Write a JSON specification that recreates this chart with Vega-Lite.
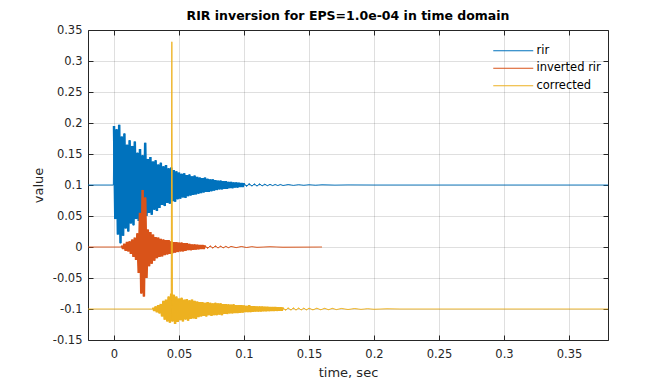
{
  "$schema": "https://vega.github.io/schema/vega-lite/v6.json",
  "width": 520,
  "height": 310,
  "autosize": {"type": "none"},
  "padding": {"left": 88, "top": 30, "right": 64, "bottom": 44},
  "background": "white",
  "title": {"text": "RIR inversion for EPS=1.0e-04 in time domain", "fontSize": 12.5, "fontWeight": "bold", "font": "DejaVu Sans", "color": "#000000", "anchor": "middle", "baseline": "alphabetic", "offset": -8},
  "config": {
    "view": {"stroke": "#262626", "strokeWidth": 1},
    "axis": {"labelFont": "DejaVu Sans", "titleFont": "DejaVu Sans", "labelFontSize": 11.5, "titleFontSize": 13, "titleFontWeight": "normal", "labelColor": "#262626", "titleColor": "#262626", "tickColor": "#262626", "gridColor": "#262626", "gridOpacity": 0.15, "domain": false, "tickSize": -5},
    "legend": {"labelFont": "DejaVu Sans", "labelFontSize": 11.5, "labelColor": "#000000"}
  },
  "datasets": {
    "rir": [
      {"t": -0.02, "v": 0.1}, {"t": -0.0005, "v": 0.1},
      {"t": 0.000, "v": 0.195}, {"t": 0.001, "v": 0.045}, {"t": 0.002, "v": 0.19}, {"t": 0.003, "v": 0.02},
      {"t": 0.004, "v": 0.197}, {"t": 0.005, "v": 0.006}, {"t": 0.006, "v": 0.178}, {"t": 0.007, "v": 0.018},
      {"t": 0.008, "v": 0.183}, {"t": 0.009, "v": 0.03}, {"t": 0.010, "v": 0.165}, {"t": 0.011, "v": 0.025},
      {"t": 0.012, "v": 0.172}, {"t": 0.013, "v": 0.038}, {"t": 0.014, "v": 0.163}, {"t": 0.015, "v": 0.035},
      {"t": 0.016, "v": 0.17}, {"t": 0.017, "v": 0.045}, {"t": 0.018, "v": 0.152}, {"t": 0.019, "v": 0.042},
      {"t": 0.020, "v": 0.158}, {"t": 0.021, "v": 0.048}, {"t": 0.022, "v": 0.148}, {"t": 0.023, "v": 0.045},
      {"t": 0.024, "v": 0.168}, {"t": 0.025, "v": 0.05}, {"t": 0.026, "v": 0.142}, {"t": 0.027, "v": 0.055},
      {"t": 0.028, "v": 0.145}, {"t": 0.029, "v": 0.052}, {"t": 0.030, "v": 0.138}, {"t": 0.031, "v": 0.06},
      {"t": 0.032, "v": 0.14}, {"t": 0.033, "v": 0.058}, {"t": 0.034, "v": 0.133}, {"t": 0.035, "v": 0.063},
      {"t": 0.036, "v": 0.136}, {"t": 0.037, "v": 0.068}, {"t": 0.038, "v": 0.13}, {"t": 0.039, "v": 0.066},
      {"t": 0.040, "v": 0.132}, {"t": 0.041, "v": 0.071}, {"t": 0.042, "v": 0.127}, {"t": 0.043, "v": 0.07},
      {"t": 0.044, "v": 0.128}, {"t": 0.045, "v": 0.074}, {"t": 0.046, "v": 0.124}, {"t": 0.047, "v": 0.073},
      {"t": 0.048, "v": 0.122}, {"t": 0.049, "v": 0.077}, {"t": 0.050, "v": 0.12}, {"t": 0.051, "v": 0.078},
      {"t": 0.052, "v": 0.118}, {"t": 0.053, "v": 0.08}, {"t": 0.054, "v": 0.119}, {"t": 0.055, "v": 0.079},
      {"t": 0.056, "v": 0.116}, {"t": 0.057, "v": 0.082}, {"t": 0.058, "v": 0.117}, {"t": 0.059, "v": 0.083},
      {"t": 0.060, "v": 0.114}, {"t": 0.061, "v": 0.084}, {"t": 0.062, "v": 0.115}, {"t": 0.063, "v": 0.085},
      {"t": 0.064, "v": 0.113}, {"t": 0.065, "v": 0.086}, {"t": 0.066, "v": 0.112}, {"t": 0.067, "v": 0.087},
      {"t": 0.068, "v": 0.111}, {"t": 0.069, "v": 0.088}, {"t": 0.070, "v": 0.112}, {"t": 0.071, "v": 0.089},
      {"t": 0.072, "v": 0.11}, {"t": 0.073, "v": 0.089}, {"t": 0.074, "v": 0.109}, {"t": 0.075, "v": 0.09},
      {"t": 0.076, "v": 0.109}, {"t": 0.077, "v": 0.091}, {"t": 0.078, "v": 0.108}, {"t": 0.079, "v": 0.092},
      {"t": 0.080, "v": 0.107}, {"t": 0.081, "v": 0.093}, {"t": 0.082, "v": 0.107}, {"t": 0.083, "v": 0.093},
      {"t": 0.084, "v": 0.106}, {"t": 0.085, "v": 0.094}, {"t": 0.086, "v": 0.106}, {"t": 0.087, "v": 0.094},
      {"t": 0.088, "v": 0.105}, {"t": 0.089, "v": 0.095}, {"t": 0.090, "v": 0.105}, {"t": 0.091, "v": 0.095},
      {"t": 0.092, "v": 0.104}, {"t": 0.093, "v": 0.096}, {"t": 0.094, "v": 0.104}, {"t": 0.095, "v": 0.096},
      {"t": 0.096, "v": 0.1035}, {"t": 0.097, "v": 0.097}, {"t": 0.098, "v": 0.103}, {"t": 0.099, "v": 0.097},
      {"t": 0.100, "v": 0.103}, {"t": 0.102, "v": 0.0975}, {"t": 0.104, "v": 0.1025}, {"t": 0.106, "v": 0.098},
      {"t": 0.108, "v": 0.102}, {"t": 0.110, "v": 0.098}, {"t": 0.112, "v": 0.102}, {"t": 0.114, "v": 0.0985},
      {"t": 0.116, "v": 0.1015}, {"t": 0.118, "v": 0.0988}, {"t": 0.120, "v": 0.1012}, {"t": 0.122, "v": 0.099},
      {"t": 0.124, "v": 0.101}, {"t": 0.126, "v": 0.0991}, {"t": 0.128, "v": 0.1009}, {"t": 0.130, "v": 0.0992},
      {"t": 0.134, "v": 0.1007}, {"t": 0.138, "v": 0.0994}, {"t": 0.142, "v": 0.1005}, {"t": 0.146, "v": 0.0996},
      {"t": 0.150, "v": 0.1004}, {"t": 0.155, "v": 0.0997}, {"t": 0.160, "v": 0.1003}, {"t": 0.170, "v": 0.0998},
      {"t": 0.180, "v": 0.1002}, {"t": 0.200, "v": 0.1}, {"t": 0.380, "v": 0.1}
    ],
    "inv": [
      {"t": -0.02, "v": 0}, {"t": 0.005, "v": 0},
      {"t": 0.006, "v": 0.002}, {"t": 0.007, "v": -0.003}, {"t": 0.008, "v": 0.005}, {"t": 0.009, "v": -0.006},
      {"t": 0.010, "v": 0.008}, {"t": 0.011, "v": -0.007}, {"t": 0.012, "v": 0.009}, {"t": 0.013, "v": -0.011},
      {"t": 0.014, "v": 0.012}, {"t": 0.015, "v": -0.016}, {"t": 0.016, "v": 0.015}, {"t": 0.017, "v": -0.021},
      {"t": 0.018, "v": 0.022}, {"t": 0.019, "v": -0.042}, {"t": 0.020, "v": 0.055}, {"t": 0.021, "v": -0.075},
      {"t": 0.022, "v": 0.092}, {"t": 0.023, "v": -0.08}, {"t": 0.024, "v": 0.08}, {"t": 0.025, "v": -0.05},
      {"t": 0.026, "v": 0.028}, {"t": 0.027, "v": -0.031}, {"t": 0.028, "v": 0.024}, {"t": 0.029, "v": -0.027},
      {"t": 0.030, "v": 0.02}, {"t": 0.031, "v": -0.022}, {"t": 0.032, "v": 0.016}, {"t": 0.033, "v": -0.018},
      {"t": 0.034, "v": 0.015}, {"t": 0.035, "v": -0.016}, {"t": 0.036, "v": 0.013}, {"t": 0.037, "v": -0.015},
      {"t": 0.038, "v": 0.012}, {"t": 0.039, "v": -0.013}, {"t": 0.040, "v": 0.011}, {"t": 0.041, "v": -0.012},
      {"t": 0.042, "v": 0.011}, {"t": 0.043, "v": -0.011}, {"t": 0.044, "v": 0.009}, {"t": 0.045, "v": -0.01},
      {"t": 0.046, "v": 0.008}, {"t": 0.047, "v": -0.009}, {"t": 0.048, "v": 0.008}, {"t": 0.049, "v": -0.008},
      {"t": 0.050, "v": 0.007}, {"t": 0.051, "v": -0.007}, {"t": 0.052, "v": 0.007}, {"t": 0.053, "v": -0.007},
      {"t": 0.054, "v": 0.006}, {"t": 0.055, "v": -0.006}, {"t": 0.056, "v": 0.006}, {"t": 0.057, "v": -0.005},
      {"t": 0.058, "v": 0.005}, {"t": 0.059, "v": -0.005}, {"t": 0.060, "v": 0.004}, {"t": 0.061, "v": -0.0045},
      {"t": 0.062, "v": 0.004}, {"t": 0.063, "v": -0.004}, {"t": 0.064, "v": 0.0035}, {"t": 0.065, "v": -0.0035},
      {"t": 0.066, "v": 0.003}, {"t": 0.067, "v": -0.003}, {"t": 0.068, "v": 0.003}, {"t": 0.069, "v": -0.003},
      {"t": 0.070, "v": 0.0025}, {"t": 0.072, "v": -0.0025}, {"t": 0.074, "v": 0.002}, {"t": 0.076, "v": -0.002},
      {"t": 0.078, "v": 0.002}, {"t": 0.080, "v": -0.0018}, {"t": 0.082, "v": 0.0015}, {"t": 0.084, "v": -0.0015},
      {"t": 0.086, "v": 0.0012}, {"t": 0.088, "v": -0.0012}, {"t": 0.090, "v": 0.001}, {"t": 0.094, "v": -0.001},
      {"t": 0.098, "v": 0.0008}, {"t": 0.102, "v": -0.0008}, {"t": 0.106, "v": 0.0006}, {"t": 0.110, "v": -0.0005},
      {"t": 0.120, "v": 0.0004}, {"t": 0.130, "v": -0.0003}, {"t": 0.160, "v": 0}
    ],
    "cor": [
      {"t": -0.02, "v": -0.1}, {"t": 0.029, "v": -0.1},
      {"t": 0.030, "v": -0.098}, {"t": 0.031, "v": -0.103}, {"t": 0.032, "v": -0.096}, {"t": 0.033, "v": -0.105},
      {"t": 0.034, "v": -0.094}, {"t": 0.035, "v": -0.107}, {"t": 0.036, "v": -0.092}, {"t": 0.037, "v": -0.112},
      {"t": 0.038, "v": -0.087}, {"t": 0.039, "v": -0.117}, {"t": 0.040, "v": -0.085}, {"t": 0.041, "v": -0.12},
      {"t": 0.042, "v": -0.08}, {"t": 0.043, "v": -0.122}, {"t": 0.044, "v": -0.075}, {"t": 0.0445, "v": 0.331},
      {"t": 0.045, "v": -0.12}, {"t": 0.046, "v": -0.077}, {"t": 0.047, "v": -0.124}, {"t": 0.048, "v": -0.08},
      {"t": 0.049, "v": -0.121}, {"t": 0.050, "v": -0.083}, {"t": 0.051, "v": -0.118}, {"t": 0.052, "v": -0.082},
      {"t": 0.053, "v": -0.12}, {"t": 0.054, "v": -0.085}, {"t": 0.055, "v": -0.117}, {"t": 0.056, "v": -0.084},
      {"t": 0.057, "v": -0.119}, {"t": 0.058, "v": -0.086}, {"t": 0.059, "v": -0.116}, {"t": 0.060, "v": -0.085},
      {"t": 0.061, "v": -0.115}, {"t": 0.062, "v": -0.087}, {"t": 0.063, "v": -0.116}, {"t": 0.064, "v": -0.088},
      {"t": 0.065, "v": -0.113}, {"t": 0.066, "v": -0.089}, {"t": 0.067, "v": -0.112}, {"t": 0.068, "v": -0.089},
      {"t": 0.069, "v": -0.111}, {"t": 0.070, "v": -0.09}, {"t": 0.071, "v": -0.112}, {"t": 0.072, "v": -0.089},
      {"t": 0.073, "v": -0.11}, {"t": 0.074, "v": -0.09}, {"t": 0.075, "v": -0.111}, {"t": 0.076, "v": -0.091},
      {"t": 0.077, "v": -0.11}, {"t": 0.078, "v": -0.09}, {"t": 0.079, "v": -0.11}, {"t": 0.080, "v": -0.091},
      {"t": 0.081, "v": -0.109}, {"t": 0.082, "v": -0.091}, {"t": 0.083, "v": -0.11}, {"t": 0.084, "v": -0.092},
      {"t": 0.085, "v": -0.108}, {"t": 0.086, "v": -0.092}, {"t": 0.087, "v": -0.108}, {"t": 0.088, "v": -0.0925},
      {"t": 0.089, "v": -0.107}, {"t": 0.090, "v": -0.093}, {"t": 0.091, "v": -0.107}, {"t": 0.092, "v": -0.0925},
      {"t": 0.093, "v": -0.1065}, {"t": 0.094, "v": -0.094}, {"t": 0.095, "v": -0.1065}, {"t": 0.096, "v": -0.094},
      {"t": 0.097, "v": -0.106}, {"t": 0.098, "v": -0.094}, {"t": 0.099, "v": -0.1055}, {"t": 0.100, "v": -0.0945},
      {"t": 0.101, "v": -0.105}, {"t": 0.102, "v": -0.095}, {"t": 0.103, "v": -0.105}, {"t": 0.104, "v": -0.094},
      {"t": 0.105, "v": -0.105}, {"t": 0.106, "v": -0.0955}, {"t": 0.107, "v": -0.1045}, {"t": 0.108, "v": -0.0955},
      {"t": 0.109, "v": -0.104}, {"t": 0.110, "v": -0.096}, {"t": 0.111, "v": -0.104}, {"t": 0.112, "v": -0.096},
      {"t": 0.113, "v": -0.1038}, {"t": 0.114, "v": -0.0963}, {"t": 0.115, "v": -0.1035}, {"t": 0.116, "v": -0.0965},
      {"t": 0.117, "v": -0.1035}, {"t": 0.118, "v": -0.0967}, {"t": 0.119, "v": -0.1032}, {"t": 0.120, "v": -0.097},
      {"t": 0.121, "v": -0.103}, {"t": 0.122, "v": -0.097}, {"t": 0.123, "v": -0.103}, {"t": 0.124, "v": -0.0972},
      {"t": 0.125, "v": -0.1027}, {"t": 0.126, "v": -0.0974}, {"t": 0.127, "v": -0.1025}, {"t": 0.128, "v": -0.0975},
      {"t": 0.129, "v": -0.1024}, {"t": 0.130, "v": -0.0977}, {"t": 0.132, "v": -0.1023}, {"t": 0.134, "v": -0.0978},
      {"t": 0.136, "v": -0.1021}, {"t": 0.138, "v": -0.098}, {"t": 0.140, "v": -0.102}, {"t": 0.142, "v": -0.0982},
      {"t": 0.144, "v": -0.1018}, {"t": 0.146, "v": -0.0984}, {"t": 0.148, "v": -0.1016}, {"t": 0.150, "v": -0.0985},
      {"t": 0.153, "v": -0.1015}, {"t": 0.156, "v": -0.0986}, {"t": 0.159, "v": -0.1013}, {"t": 0.162, "v": -0.0988},
      {"t": 0.165, "v": -0.1012}, {"t": 0.168, "v": -0.0989}, {"t": 0.171, "v": -0.101}, {"t": 0.175, "v": -0.0991},
      {"t": 0.180, "v": -0.1008}, {"t": 0.185, "v": -0.0993}, {"t": 0.190, "v": -0.1006}, {"t": 0.195, "v": -0.0995},
      {"t": 0.200, "v": -0.1004}, {"t": 0.210, "v": -0.0997}, {"t": 0.220, "v": -0.1}, {"t": 0.380, "v": -0.1}
    ]
  },
  "layer": [
    {
      "data": {"name": "rir"},
      "mark": {"type": "area", "clip": true, "color": "#0072BD"},
      "encoding": {
        "x": {"field": "t", "type": "quantitative",
              "scale": {"domain": [-0.02, 0.38], "nice": false, "zero": false},
              "axis": {"title": "time, sec", "values": [0, 0.05, 0.1, 0.15, 0.2, 0.25, 0.3, 0.35], "labelExpr": "datum.value < 0 ? '-' + format(-datum.value, '~g') : format(datum.value, '~g')", "labelPadding": 13, "titlePadding": 7, "grid": true}},
        "y": {"field": "v", "type": "quantitative",
              "scale": {"domain": [-0.15, 0.35], "nice": false, "zero": false},
              "axis": {"title": "value", "values": [-0.15, -0.1, -0.05, 0, 0.05, 0.1, 0.15, 0.2, 0.25, 0.3, 0.35], "labelExpr": "datum.value < 0 ? '-' + format(-datum.value, '~g') : format(datum.value, '~g')", "labelPadding": 11, "titlePadding": 7, "grid": true}},
        "y2": {"datum": 0.1}
      }
    },
    {
      "data": {"name": "rir"},
      "mark": {"type": "line", "strokeWidth": 0.9, "clip": true},
      "encoding": {
        "x": {"field": "t", "type": "quantitative", "axis": null},
        "y": {"field": "v", "type": "quantitative", "axis": null},
        "order": {"field": "t", "type": "quantitative"},
        "color": {"datum": "rir", "type": "nominal",
                  "scale": {"domain": ["rir", "inverted rir", "corrected"], "range": ["#0072BD", "#D95319", "#EDB120"]},
                  "legend": {"title": null, "orient": "none", "legendX": 419.5, "legendY": 15, "symbolType": "M-4,0H4", "symbolSize": 100, "symbolStrokeWidth": 1, "labelOffset": 17.5, "rowPadding": 4.5}}
      }
    },
    {
      "data": {"name": "rir"},
      "transform": [{"filter": "datum.t >= 0 && datum.t <= 0.1"}],
      "mark": {"type": "line", "strokeWidth": 2.5, "strokeJoin": "bevel", "clip": true, "color": "#0072BD"},
      "encoding": {
        "x": {"field": "t", "type": "quantitative", "axis": null},
        "y": {"field": "v", "type": "quantitative", "axis": null},
        "order": {"field": "t", "type": "quantitative"}
      }
    },
    {
      "data": {"name": "inv"},
      "mark": {"type": "area", "clip": true, "color": "#D95319"},
      "encoding": {
        "x": {"field": "t", "type": "quantitative", "axis": null},
        "y": {"field": "v", "type": "quantitative", "axis": null},
        "y2": {"datum": 0}
      }
    },
    {
      "data": {"name": "inv"},
      "mark": {"type": "line", "strokeWidth": 0.9, "clip": true},
      "encoding": {
        "x": {"field": "t", "type": "quantitative", "axis": null},
        "y": {"field": "v", "type": "quantitative", "axis": null},
        "order": {"field": "t", "type": "quantitative"},
        "color": {"datum": "inverted rir", "type": "nominal"}
      }
    },
    {
      "data": {"name": "inv"},
      "transform": [{"filter": "datum.t >= 0.006 && datum.t <= 0.07"}],
      "mark": {"type": "line", "strokeWidth": 2.5, "strokeJoin": "bevel", "clip": true, "color": "#D95319"},
      "encoding": {
        "x": {"field": "t", "type": "quantitative", "axis": null},
        "y": {"field": "v", "type": "quantitative", "axis": null},
        "order": {"field": "t", "type": "quantitative"}
      }
    },
    {
      "data": {"name": "cor"},
      "mark": {"type": "area", "clip": true, "color": "#EDB120"},
      "encoding": {
        "x": {"field": "t", "type": "quantitative", "axis": null},
        "y": {"field": "v", "type": "quantitative", "axis": null},
        "y2": {"datum": -0.1}
      }
    },
    {
      "data": {"name": "cor"},
      "transform": [{"filter": "datum.t >= 0.03 && datum.t <= 0.13 && datum.v < -0.05"}],
      "mark": {"type": "line", "strokeWidth": 2.5, "strokeJoin": "bevel", "clip": true, "color": "#EDB120"},
      "encoding": {
        "x": {"field": "t", "type": "quantitative", "axis": null},
        "y": {"field": "v", "type": "quantitative", "axis": null},
        "order": {"field": "t", "type": "quantitative"}
      }
    },
    {
      "data": {"name": "cor"},
      "mark": {"type": "line", "strokeWidth": 0.9, "clip": true},
      "encoding": {
        "x": {"field": "t", "type": "quantitative", "axis": null},
        "y": {"field": "v", "type": "quantitative", "axis": null},
        "order": {"field": "t", "type": "quantitative"},
        "color": {"datum": "corrected", "type": "nominal"}
      }
    },
    {
      "data": {"name": "rir"},
      "mark": {"type": "line", "opacity": 0},
      "encoding": {
        "x": {"field": "t", "type": "quantitative",
              "axis": {"orient": "top", "title": null, "labels": false, "grid": false, "values": [0, 0.05, 0.1, 0.15, 0.2, 0.25, 0.3, 0.35]}},
        "y": {"field": "v", "type": "quantitative",
              "axis": {"orient": "right", "title": null, "labels": false, "grid": false, "values": [-0.15, -0.1, -0.05, 0, 0.05, 0.1, 0.15, 0.2, 0.25, 0.3, 0.35]}}
      }
    }
  ],
  "resolve": {"axis": {"x": "independent", "y": "independent"}}
}
